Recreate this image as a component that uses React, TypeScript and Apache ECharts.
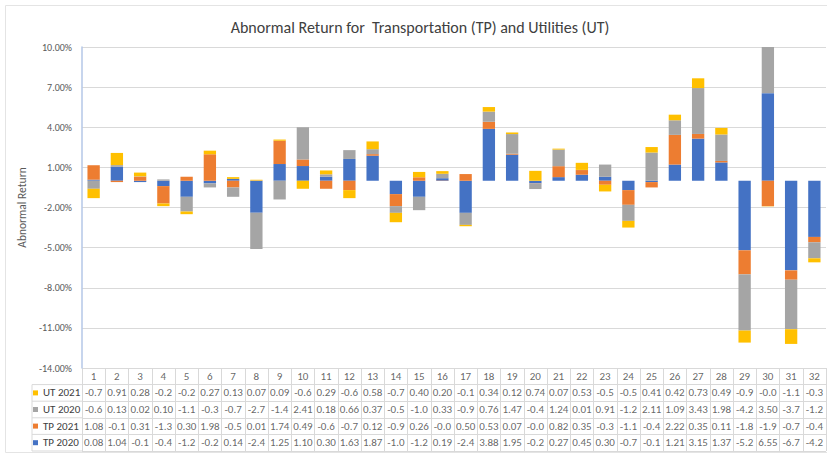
import React, { useEffect, useRef } from "react";
import * as echarts from "echarts";

const categories: string[] = Array.from({ length: 32 }, (_, i) => String(i + 1));

const seriesNames = ["TP 2020", "TP 2021", "UT 2020", "UT 2021"];
const seriesColors = ["#4472C4", "#ED7D31", "#A5A5A5", "#FFC000"];

const tp2020: number[] = [0.08, 1.04, -0.1, -0.4, -1.2, -0.2, 0.14, -2.4, 1.25, 1.10, 0.30, 1.63, 1.87, -1.0, -1.2, 0.19, -2.4, 3.88, 1.95, -0.2, 0.27, 0.45, 0.30, -0.7, -0.1, 1.21, 3.15, 1.37, -5.2, 6.55, -6.7, -4.2];
const tp2021: number[] = [1.08, -0.1, 0.31, -1.3, 0.30, 1.98, -0.5, 0.01, 1.74, 0.49, -0.6, -0.7, 0.12, -0.9, 0.26, -0.02, 0.50, 0.53, 0.07, -0.02, 0.82, 0.35, -0.3, -1.1, -0.4, 2.22, 0.35, 0.11, -1.8, -1.9, -0.7, -0.4];
const ut2020: number[] = [-0.6, 0.13, 0.02, 0.10, -1.1, -0.3, -0.7, -2.7, -1.4, 2.41, 0.18, 0.66, 0.37, -0.5, -1.0, 0.33, -0.9, 0.76, 1.47, -0.4, 1.24, 0.01, 0.91, -1.2, 2.11, 1.09, 3.43, 1.98, -4.2, 3.50, -3.7, -1.2];
const ut2021: number[] = [-0.7, 0.91, 0.28, -0.2, -0.2, 0.27, 0.13, 0.07, 0.09, -0.6, 0.29, -0.6, 0.58, -0.7, 0.40, 0.20, -0.1, 0.34, 0.12, 0.74, 0.07, 0.53, -0.5, -0.5, 0.41, 0.42, 0.73, 0.49, -0.9, -0.02, -1.1, -0.3];

const seriesValues = [tp2020, tp2021, ut2020, ut2021];
// table rows top to bottom (after header)
const tableRowOrder = ["UT 2021", "UT 2020", "TP 2021", "TP 2020"];

const yMin = -14;
const yMax = 10;
const yInterval = 3;

const FONT = "Carlito, 'Liberation Sans Narrow', Lato, sans-serif";
const TEXT_COLOR = "#404040";
const GRID_LINE = "#D9D9D9";

const PLOT_LEFT = 82;
const PLOT_RIGHT = 1;
const PLOT_TOP = 47;
const TABLE_TOP = 368;
const ROW_H = 16.6;
const LABEL_LEFT = 32;

function fmt(v: number): string {
  return v < 0 ? v.toFixed(1) : v.toFixed(2);
}

export default function App() {
  const ref = useRef<HTMLDivElement>(null);
  useEffect(() => {
    if (!ref.current) return;
    const chart = echarts.init(ref.current, undefined, { renderer: "svg" });

    const tableCells: any[] = [];
    categories.forEach((c, i) => {
      tableCells.push({ value: [i, 0.5], label: { formatter: c } });
    });
    tableRowOrder.forEach((name, r) => {
      const idx = seriesNames.indexOf(name);
      seriesValues[idx].forEach((v, i) => {
        tableCells.push({ value: [i, r + 1.5], label: { formatter: fmt(v) } });
      });
    });

    const tableBottom = TABLE_TOP + ROW_H * 5;
    const leftLines: any[] = [];
    for (let r = 1; r <= 5; r++) {
      const y = TABLE_TOP + ROW_H * r;
      leftLines.push({
        type: "line",
        shape: { x1: LABEL_LEFT, y1: y, x2: PLOT_LEFT, y2: y },
        style: { stroke: GRID_LINE, lineWidth: 1 },
        silent: true,
      });
    }
    leftLines.push({
      type: "line",
      shape: { x1: LABEL_LEFT, y1: TABLE_TOP + ROW_H, x2: LABEL_LEFT, y2: tableBottom },
      style: { stroke: GRID_LINE, lineWidth: 1 },
      silent: true,
    });

    chart.setOption({
      animation: false,
      textStyle: { fontFamily: FONT },
      title: {
        text: "Abnormal Return for  Transportation (TP) and Utilities (UT)",
        left: 415,
        textAlign: "center",
        top: 14,
        textStyle: { fontFamily: FONT, fontSize: 16, fontWeight: "normal", color: TEXT_COLOR },
      },
      graphic: [
        {
          type: "rect",
          shape: { x: 5.5, y: 5.5, width: 900, height: 447 },
          style: { fill: "none", stroke: "#E4E4E4", lineWidth: 1 },
          silent: true,
          z: -10,
        },
        ...leftLines,
      ],
      legend: {
        orient: "vertical",
        left: 33,
        top: TABLE_TOP + ROW_H,
        padding: 0,
        itemGap: 0,
        itemWidth: 5,
        itemHeight: 5,
        icon: "rect",
        selectedMode: false,
        data: tableRowOrder,
        textStyle: { fontFamily: FONT, fontSize: 11, color: TEXT_COLOR, lineHeight: ROW_H },
      },
      grid: [
        { left: PLOT_LEFT, right: PLOT_RIGHT, top: PLOT_TOP, bottom: 455 - TABLE_TOP },
        { left: PLOT_LEFT, right: PLOT_RIGHT, top: TABLE_TOP, height: ROW_H * 5 },
      ],
      xAxis: [
        {
          type: "category",
          gridIndex: 0,
          data: categories,
          axisLine: { show: false },
          axisTick: { show: false },
          axisLabel: { show: false },
        },
        {
          type: "category",
          gridIndex: 1,
          data: categories,
          boundaryGap: true,
          axisLine: { show: false },
          axisTick: { show: false },
          axisLabel: { show: false },
          splitLine: { show: true, lineStyle: { color: GRID_LINE, width: 1 } },
        },
      ],
      yAxis: [
        {
          type: "value",
          gridIndex: 0,
          min: yMin,
          max: yMax,
          interval: yInterval,
          name: "Abnormal Return",
          nameLocation: "middle",
          nameGap: 50,
          nameTextStyle: { fontFamily: FONT, fontSize: 11.5, color: "#595959" },
          axisLine: { show: true, lineStyle: { color: "#B4C7E7", width: 1.5 } },
          axisTick: { show: false },
          axisLabel: {
            formatter: (v: number) => v.toFixed(2) + "%",
            fontFamily: FONT,
            fontSize: 10,
            color: "#595959",
            margin: 10,
          },
          splitLine: { show: true, lineStyle: { color: GRID_LINE, width: 1 } },
        },
        {
          type: "value",
          gridIndex: 1,
          min: 0,
          max: 5,
          interval: 1,
          inverse: true,
          axisLine: { show: false },
          axisTick: { show: false },
          axisLabel: { show: false },
          splitLine: { show: true, lineStyle: { color: GRID_LINE, width: 1 } },
        },
      ],
      series: [
        ...seriesNames.map((name, k) => ({
          name,
          type: "bar",
          stack: "all",
          xAxisIndex: 0,
          yAxisIndex: 0,
          barWidth: "53%",
          itemStyle: { color: seriesColors[k] },
          data: seriesValues[k],
        })),
        {
          type: "scatter",
          xAxisIndex: 1,
          yAxisIndex: 1,
          symbolSize: 1,
          itemStyle: { color: "transparent" },
          silent: true,
          label: {
            show: true,
            position: "inside",
            fontFamily: FONT,
            fontSize: 11,
            color: TEXT_COLOR,
          },
          data: tableCells,
        },
      ],
    });
    return () => chart.dispose();
  }, []);
  return <div ref={ref} style={{ width: 827, height: 455, position: "absolute", left: 0, top: 0 }} />;
}
